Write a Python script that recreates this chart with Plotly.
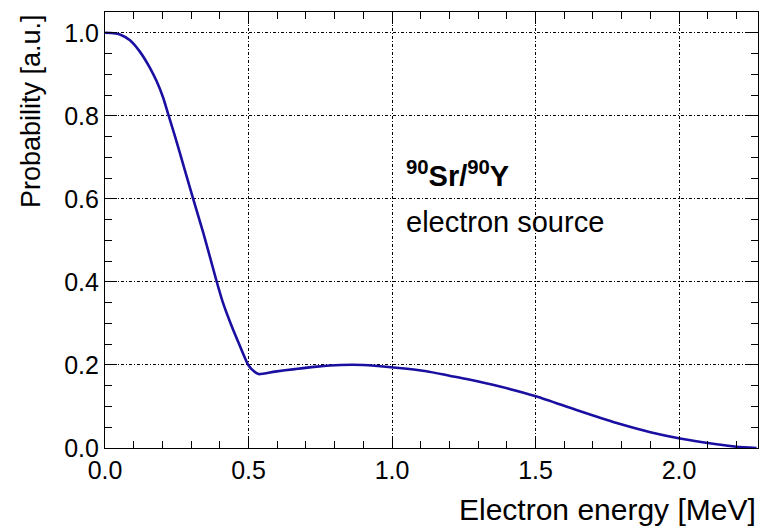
import plotly.graph_objects as go

energy = [0.000, 0.030, 0.052, 0.087, 0.122, 0.157, 0.180, 0.203, 0.221, 0.245,
          0.261, 0.308, 0.343, 0.389, 0.410, 0.436, 0.465, 0.499, 0.520, 0.535,
          0.592, 0.662, 0.738, 0.820, 0.900, 1.005, 1.120, 1.200, 1.260, 1.376,
          1.504, 1.640, 1.783, 1.900, 2.003, 2.131, 2.200, 2.270]
probability = [1.000, 0.999, 0.996, 0.982, 0.954, 0.915, 0.883, 0.843, 0.802, 0.748,
               0.710, 0.598, 0.517, 0.401, 0.352, 0.303, 0.254, 0.200, 0.184, 0.178,
               0.184, 0.190, 0.196, 0.200, 0.200, 0.194, 0.185, 0.174, 0.166, 0.148,
               0.124, 0.092, 0.060, 0.038, 0.023, 0.009, 0.003, 0.000]

x_ticks = [0.0, 0.5, 1.0, 1.5, 2.0]
y_ticks = [0.0, 0.2, 0.4, 0.6, 0.8, 1.0]

FONT = "Liberation Sans, Arial, sans-serif"

fig = go.Figure()
fig.add_trace(go.Scatter(
    x=energy, y=probability, mode="lines",
    line=dict(color="#1a0fa0", width=2.6, shape="spline", smoothing=0.6),
    showlegend=False, hoverinfo="skip"))

axis_common = dict(
    showline=True, linecolor="black", linewidth=1.2, mirror="allticks",
    ticks="inside", ticklen=12, tickwidth=1.2, tickcolor="black",
    showgrid=True, gridcolor="black", gridwidth=1, griddash="3px,2px,1px,2px",
    zeroline=False, tickformat=".1f",
    tickfont=dict(family=FONT, size=25, color="black"),
)

fig.update_xaxes(range=[0, 2.275], tickvals=x_ticks,
                 minor=dict(dtick=0.1, ticks="inside", ticklen=7, tickcolor="black",
                            tickwidth=1.2, showgrid=False),
                 **axis_common)
fig.update_yaxes(range=[0, 1.05], tickvals=y_ticks,
                 minor=dict(dtick=0.05, ticks="inside", ticklen=7, tickcolor="black",
                            tickwidth=1.2, showgrid=False),
                 **axis_common)

fig.add_annotation(xref="paper", yref="paper", x=1.0, y=-0.142, xanchor="right",
                   yanchor="middle", showarrow=False, text="Electron energy [MeV]",
                   font=dict(family=FONT, size=30, color="black"))
fig.add_annotation(xref="paper", yref="paper", x=0, xshift=-74, y=1.0, xanchor="center",
                   yanchor="top", showarrow=False, textangle=-90,
                   text="Probability [a.u.]",
                   font=dict(family=FONT, size=27, color="black"))
fig.add_annotation(xref="x", yref="y", x=1.04, y=0.66, xanchor="left", yanchor="middle",
                   showarrow=False, text="<b><sup>90</sup>Sr/<sup>90</sup>Y</b>",
                   font=dict(family=FONT, size=29, color="black"))
fig.add_annotation(xref="x", yref="y", x=1.04, y=0.545, xanchor="left", yanchor="middle",
                   showarrow=False, text="electron source",
                   font=dict(family=FONT, size=29, color="black"))

fig.update_layout(
    width=761, height=527,
    margin=dict(l=105, r=3, t=12, b=79),
    paper_bgcolor="white", plot_bgcolor="white",
    font=dict(family=FONT, color="black"),
)

fig.write_html("out.html")
